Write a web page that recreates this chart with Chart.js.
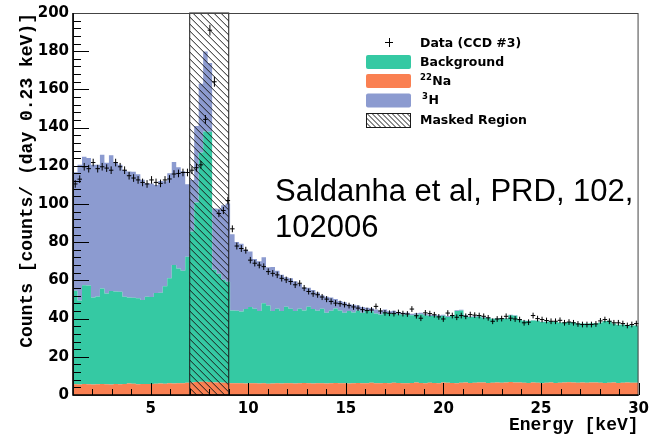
<!DOCTYPE html>
<html lang="en">
<head>
  <meta charset="UTF-8">
  <title>CCD energy spectrum</title>
  <script src="https://cdn.jsdelivr.net/npm/chart.js"></script>
  <style>
    html, body { margin: 0; padding: 0; background: #fff; }
    #wrap { position: relative; width: 654px; height: 436px; }
    #note {
      position: absolute; left: 275px; top: 173px;
      font: 31px "Liberation Sans", Arial, sans-serif; line-height: 36px;
      color: #000; white-space: nowrap;
    }
  </style>
</head>
<body>
<div id="wrap">
  <canvas id="spectrum" width="654" height="436"></canvas>
  <div id="note">Saldanha et al, PRD, 102,<br>102006</div>
</div>

<script>
  // binning: 0.23 keV wide bins starting at binLo
  const binLo = 1.02;
  const binWidth = 0.23;
  const xMin = 1.02, xMax = 30;
  const maskLo = 7, maskHi = 9;
  const xTicks = [5, 10, 15, 20, 25, 30];

  // measured rate per bin (counts / day / 0.23 keV)
  const dataCounts = [
    110.5, 113, 119.5, 118.5, 121.7, 118.5, 119.5, 118.8, 117.7, 121.7,
    119.5, 117.7, 114.8, 113.6, 112.6, 111.3, 110.5, 112.6, 111.3, 110.8,
    112.6, 113.1, 115.7, 116, 116.5, 116.5, 117.7, 119, 120.5, 144.3,
    191, 164, 95, 96.6, 101.8, 87, 78, 76.7, 75.8, 70.6,
    69, 68, 67.2, 64.6, 63.7, 62.9, 61.1, 60.3, 59.4, 57.7,
    58.5, 56, 54.2, 53, 52.5, 51.3, 50.2, 49, 48.1, 47.8,
    47.3, 46.8, 46.1, 45.5, 44.7, 44.2, 44.5, 46.4, 44, 43,
    42.8, 42.6, 43.2, 42.6, 42.4, 45, 41.5, 40.2, 43, 42.6,
    42, 40.9, 39.8, 42.9, 41.6, 40.7, 41.6, 41.2, 42.1, 41.8,
    41.6, 41.2, 40.4, 38.6, 39.8, 40, 41.2, 40.2, 39.8, 39.5,
    37.8, 38.1, 41.6, 40, 39.5, 39, 38.6, 38.6, 39.1, 37.8,
    38.2, 37.8, 37.2, 36.9, 36.9, 36.9, 37.2, 38.8, 39.5, 38.6,
    37.8, 37.8, 37.4, 36.4, 36.9, 37.4
  ];
  const dataErr = [
    2.0, 2.0, 2.0, 2.0, 2.0, 2.0, 2.0, 2.0, 2.0, 2.0,
    2.0, 2.0, 2.0, 2.0, 2.0, 2.0, 2.0, 2.0, 2.0, 2.0,
    2.0, 2.0, 2.0, 2.0, 2.0, 2.0, 2.0, 2.0, 2.0, 2.3,
    2.8, 2.6, 1.9, 1.9, 2.0, 1.8, 1.8, 1.8, 1.8, 1.7,
    1.7, 1.7, 1.7, 1.7, 1.7, 1.7, 1.7, 1.7, 1.7, 1.7,
    1.6, 1.6, 1.6, 1.6, 1.6, 1.6, 1.6, 1.6, 1.6, 1.6,
    1.5, 1.5, 1.5, 1.5, 1.5, 1.5, 1.5, 1.5, 1.5, 1.5,
    1.5, 1.5, 1.5, 1.5, 1.5, 1.5, 1.5, 1.5, 1.5, 1.5,
    1.5, 1.5, 1.5, 1.5, 1.5, 1.5, 1.5, 1.5, 1.5, 1.5,
    1.5, 1.5, 1.5, 1.5, 1.5, 1.5, 1.5, 1.5, 1.5, 1.5,
    1.5, 1.5, 1.5, 1.5, 1.5, 1.5, 1.5, 1.5, 1.5, 1.5,
    1.5, 1.5, 1.5, 1.5, 1.5, 1.5, 1.5, 1.5, 1.5, 1.5,
    1.5, 1.5, 1.5, 1.5, 1.5, 1.5
  ];

  // fitted components, stacked bottom to top
  const na22 = [
    5.4, 5.6, 5.5, 5.7, 5.6, 5.5, 5.6, 5.8, 5.6, 5.5,
    5.7, 5.6, 5.8, 6.0, 5.9, 5.6, 5.7, 5.8, 5.7, 5.9,
    6.0, 5.9, 6.1, 6.0, 6.2, 6.1, 6.4, 6.6, 6.8, 6.9,
    6.9, 6.8, 6.6, 6.5, 6.4, 6.3, 6.2, 6.1, 6.2, 6.0,
    6.1, 6.2, 6.0, 6.1, 5.9, 6.0, 6.1, 6.0, 6.2, 6.1,
    6.0, 6.1, 6.3, 6.2, 6.0, 6.1, 6.2, 6.0, 6.1, 6.3,
    6.2, 6.1, 6.0, 6.2, 6.3, 6.1, 6.2, 6.4, 6.2, 6.1,
    6.3, 6.2, 6.4, 6.3, 6.1, 6.2, 6.3, 6.5, 6.3, 6.2,
    6.4, 6.3, 6.2, 6.5, 6.4, 6.3, 6.2, 6.4, 6.5, 6.3,
    6.4, 6.6, 6.5, 6.3, 6.4, 6.5, 6.4, 6.6, 6.8, 6.5,
    6.6, 6.4, 6.3, 6.5, 6.4, 6.2, 6.4, 6.5, 6.3, 6.4,
    6.5, 6.7, 6.6, 6.4, 6.5, 6.4, 6.6, 6.5, 6.4, 6.3,
    6.4, 6.5, 6.3, 6.4, 6.5, 6.4
  ];
  const background = [
    49, 49, 44, 51.7, 51.7, 45.6, 46, 50, 47.5, 49,
    48.5, 48.5, 45.6, 45, 45, 45, 44, 45.6, 45.6, 47.5,
    47.5, 51, 55, 62, 60, 59, 66, 79, 94, 120,
    131, 131, 59, 57, 54, 53, 38, 38, 37.5, 39,
    40, 39, 38, 42, 41, 38, 39, 38, 40, 39,
    38, 39, 38, 40, 39, 38, 39, 37, 38, 39,
    38, 37, 38, 37, 38, 37, 38, 37.5, 36.5, 36,
    37, 36.5, 36.5, 36, 36, 36, 35.5, 35.5, 36, 35.5,
    35, 35, 35, 35, 34.5, 35, 37.8, 37.8, 35, 34.5,
    34.5, 34.5, 34, 34, 33.5, 33.5, 33.5, 33.5, 35, 35,
    33, 32.5, 32.5, 32.5, 32.5, 32, 32, 32, 32, 31.5,
    31.5, 31.5, 31.5, 31, 31, 31, 31, 31, 31.5, 32.5,
    32.5, 31, 30.5, 30.5, 30, 30
  ];
  const tritium = [
    59, 62, 71, 67.3, 66.8, 69.4, 69, 70, 68.5, 71,
    67.5, 66.5, 66.4, 66, 66, 65, 63, 59.4, 59.4, 56.5,
    58.5, 55, 55, 54, 53, 52, 38, 27, 40, 36,
    42, 36, 32, 34, 39, 41, 40, 36, 35.5, 31,
    29, 26, 26, 24, 20, 23, 20, 19, 15.5, 16,
    15.5, 13, 12, 10, 10, 9.5, 7, 8.5, 7, 5,
    5, 5.5, 3.5, 4, 2.5, 3, 1.5, 1.5, 2, 2,
    1.5, 1.2, 1.2, 1.0, 1.0, 0.9, 0.8, 0.8, 0.7, 0.7,
    0.6, 0.6, 0.5, 0.5, 0.5, 0.4, 0.4, 0.4, 0.4, 0.3,
    0.3, 0.3, 0.3, 0.3, 0.2, 0.2, 0.2, 0.2, 0.2, 0.2,
    0.2, 0.1, 0.1, 0.1, 0.1, 0.1, 0.1, 0.1, 0.1, 0.1,
    0, 0, 0, 0, 0, 0, 0, 0, 0, 0,
    0, 0, 0, 0, 0, 0
  ];

  const colNa = '#fa8052';
  const colBkg = '#35c9a3';
  const colH3 = '#8c9bd0';

  // histogram steps: one point per low bin edge plus the closing edge
  function steps(values) {
    const pts = values.map((v, i) => ({ x: binLo + binWidth * i, y: v }));
    pts.push({ x: binLo + binWidth * values.length, y: values[values.length - 1] });
    return pts;
  }

  function hatch(ctx, x0, y0, w, h, gap) {
    ctx.save();
    ctx.beginPath();
    ctx.rect(x0, y0, w, h);
    ctx.clip();
    ctx.beginPath();
    for (let s = x0 - h; s < x0 + w; s += gap) {
      ctx.moveTo(s, y0);
      ctx.lineTo(s + h, y0 + h);
    }
    ctx.stroke();
    ctx.restore();
  }

  const decor = {
    id: 'decor',
    afterDatasetsDraw(chart) {
      const { ctx, chartArea: a, scales: { x, y } } = chart;

      // masked region
      const mx0 = x.getPixelForValue(maskLo);
      const mx1 = x.getPixelForValue(maskHi);
      ctx.save();
      ctx.strokeStyle = '#1a1a1a';
      ctx.lineWidth = 1;
      hatch(ctx, mx0, a.top, mx1 - mx0, a.bottom - a.top, 7);
      ctx.strokeRect(mx0, a.top, mx1 - mx0, a.bottom - a.top);
      ctx.restore();

      // data points with error bars
      ctx.save();
      ctx.strokeStyle = '#000';
      ctx.lineWidth = 1;
      ctx.beginPath();
      dataCounts.forEach((v, i) => {
        const lo = binLo + binWidth * i;
        const xc = x.getPixelForValue(lo + binWidth / 2);
        const yc = y.getPixelForValue(v);
        ctx.moveTo(x.getPixelForValue(lo), yc);
        ctx.lineTo(x.getPixelForValue(lo + binWidth), yc);
        ctx.moveTo(xc, y.getPixelForValue(v - dataErr[i]));
        ctx.lineTo(xc, y.getPixelForValue(v + dataErr[i]));
      });
      ctx.stroke();
      ctx.restore();

      // inward ticks
      ctx.save();
      ctx.strokeStyle = '#000';
      ctx.lineWidth = 1;
      ctx.beginPath();
      for (let v = 0; v <= 200; v += 4) {
        const py = Math.round(y.getPixelForValue(v)) + 0.5;
        ctx.moveTo(a.left, py);
        ctx.lineTo(a.left + (v % 20 === 0 ? 16 : 8), py);
      }
      for (let v = 2; v <= 30; v += 1) {
        const px = Math.round(x.getPixelForValue(v)) + 0.5;
        ctx.moveTo(px, a.bottom);
        ctx.lineTo(px, a.bottom - (v % 5 === 0 ? 12 : 6));
      }
      ctx.stroke();

      // frame
      ctx.strokeStyle = '#444';
      ctx.strokeRect(a.left + 0.5, a.top + 0.5, a.right - a.left - 1, a.bottom - a.top);
      ctx.strokeStyle = '#000';
      ctx.lineWidth = 1.6;
      ctx.beginPath();
      ctx.moveTo(a.left, a.top);
      ctx.lineTo(a.left, a.bottom);
      ctx.lineTo(a.right, a.bottom);
      ctx.stroke();
      ctx.restore();
    },
    afterDraw(chart) {
      const { ctx } = chart;
      const tx = 420;
      ctx.save();
      ctx.fillStyle = '#000';
      ctx.textBaseline = 'alphabetic';

      // data marker
      ctx.strokeStyle = '#000';
      ctx.lineWidth = 1;
      ctx.beginPath();
      ctx.moveTo(385, 42.5); ctx.lineTo(393, 42.5);
      ctx.moveTo(389.5, 38); ctx.lineTo(389.5, 47);
      ctx.stroke();

      const boxes = [
        { y: 55, color: colBkg },
        { y: 74, color: colNa },
        { y: 93.5, color: colH3 }
      ];
      boxes.forEach(b => {
        ctx.fillStyle = b.color;
        ctx.beginPath();
        ctx.roundRect(366, b.y, 45, 14, 2);
        ctx.fill();
      });
      ctx.strokeStyle = '#1a1a1a';
      hatch(ctx, 366, 113.5, 45, 14, 5);
      ctx.strokeRect(366.5, 113.5, 44, 14);

      const bold = (s) => 'bold ' + s + 'px "DejaVu Sans", sans-serif';
      ctx.fillStyle = '#000';
      ctx.font = bold(12.5);
      ctx.fillText('Data (CCD #3)', tx, 47);
      ctx.fillText('Background', tx, 66);
      ctx.fillText('Masked Region', tx, 123.5);

      ctx.font = bold(8.5);
      ctx.fillText('22', tx, 80);
      let w = ctx.measureText('22').width;
      ctx.font = bold(12.5);
      ctx.fillText('Na', tx + w + 0.5, 85);

      ctx.font = bold(8.5);
      ctx.fillText('3', tx + 2, 99);
      w = ctx.measureText('3').width;
      ctx.font = bold(12.5);
      ctx.fillText('H', tx + 2 + w + 0.5, 104);
      ctx.restore();
    }
  };

  const tickFont = { family: 'DejaVu Sans', weight: 'bold', size: 15 };
  const titleFont = { family: 'Liberation Mono', weight: 'bold', size: 18 };

  new Chart(document.getElementById('spectrum').getContext('2d'), {
    type: 'line',
    data: {
      datasets: [
        { label: '22Na', data: steps(na22), backgroundColor: colNa, fill: 'origin' },
        { label: 'Background', data: steps(background), backgroundColor: colBkg, fill: '-1' },
        { label: '3H', data: steps(tritium), backgroundColor: colH3, fill: '-1' }
      ]
    },
    options: {
      responsive: false,
      animation: false,
      events: [],
      datasets: {
        line: { stepped: 'after', borderWidth: 0, borderColor: 'rgba(0,0,0,0)', pointRadius: 0 }
      },
      layout: { padding: { top: 10, right: 13, left: 0, bottom: 0 } },
      plugins: { legend: { display: false }, tooltip: { enabled: false } },
      scales: {
        x: {
          type: 'linear',
          min: xMin,
          max: xMax,
          grid: { display: false, drawTicks: false },
          border: { display: false },
          afterBuildTicks: s => { s.ticks = xTicks.map(v => ({ value: v })); },
          afterFit: s => { s.height = 41; },
          ticks: { font: tickFont, color: '#000', padding: 5, maxRotation: 0, autoSkip: false },
          title: { display: true, text: 'Energy [keV]', align: 'end', font: titleFont, color: '#000', padding: 0 }
        },
        y: {
          stacked: true,
          min: 0,
          max: 200,
          grid: { display: false, drawTicks: false },
          border: { display: false },
          afterFit: s => { s.width = 73; },
          ticks: { stepSize: 20, font: tickFont, color: '#000', padding: 4 },
          title: { display: true, text: 'Counts [counts/ (day 0.23 keV)]', align: 'end', font: titleFont, color: '#000', padding: { top: 17, bottom: 0 } }
        }
      }
    },
    plugins: [decor]
  });
</script>
</body>
</html>
